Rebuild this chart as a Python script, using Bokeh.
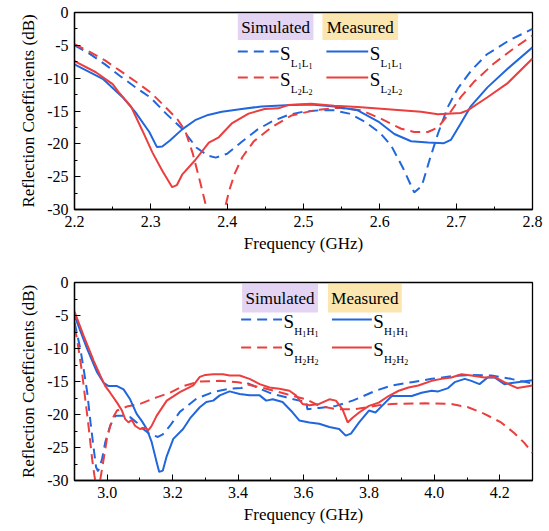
from bokeh.plotting import figure
from bokeh.layouts import gridplot
from bokeh.models import Range1d, FixedTicker, PrintfTickFormatter
from bokeh.core.properties import value
from bokeh.embed import file_html
from bokeh.resources import INLINE

SERIF = "Liberation Serif"
INK = "black"
BLUE = "#2166DD"
RED = "#EB3E3E"
SIM_BG = "#E3D4F4"
MEAS_BG = "#FCE6B0"
DASH = "10 6"

# ---------------- L band (upper panel) ----------------
l_x_ticks = [2.2, 2.3, 2.4, 2.5, 2.6, 2.7, 2.8]
l_x_minor = [2.25, 2.35, 2.45, 2.55, 2.65, 2.75]

l1_sim_f = [2.20, 2.22, 2.24, 2.26, 2.28, 2.30, 2.32, 2.34, 2.36, 2.375, 2.385, 2.40,
            2.42, 2.44, 2.46, 2.48, 2.50, 2.52, 2.54, 2.56, 2.58, 2.60, 2.615, 2.63,
            2.645, 2.655, 2.665, 2.676, 2.689, 2.702, 2.72, 2.74, 2.77, 2.80]
l1_sim_db = [-5.0, -6.3, -7.9, -9.7, -11.4, -13.0, -15.4, -17.6, -20.6, -21.8, -22.1, -21.5,
             -19.6, -17.8, -16.5, -15.6, -15.1, -14.9, -14.9, -15.4, -16.6, -18.3, -20.3, -23.6,
             -27.4, -26.4, -22.5, -18.5, -14.4, -11.6, -8.8, -6.4, -4.2, -2.5]

l2_sim_f = [2.20, 2.22, 2.24, 2.26, 2.28, 2.30, 2.32, 2.335, 2.345, 2.355, 2.365, 2.374,
            2.385, 2.396, 2.403, 2.41, 2.42, 2.435, 2.458, 2.484, 2.514, 2.546, 2.576,
            2.602, 2.628, 2.645, 2.663, 2.676, 2.691, 2.706, 2.723, 2.749, 2.775, 2.80]
l2_sim_db = [-4.8, -6.0, -7.3, -8.9, -10.5, -12.2, -14.5, -16.3, -18.0, -21.5, -26.0, -30.3,
             -33.0, -30.3, -27.0, -24.5, -22.0, -19.6, -17.5, -15.7, -14.9, -14.5, -14.9,
             -16.2, -17.7, -18.2, -18.2, -17.5, -15.4, -12.9, -10.6, -7.8, -5.5, -3.5]

l1_meas_f = [2.20, 2.237, 2.263, 2.28, 2.298, 2.308, 2.315, 2.325, 2.341, 2.358, 2.375,
             2.393, 2.419, 2.445, 2.484, 2.51, 2.54, 2.571, 2.598, 2.619, 2.641, 2.663,
             2.684, 2.693, 2.706, 2.719, 2.741, 2.767, 2.80]
l1_meas_db = [-7.9, -10.1, -12.9, -15.2, -18.2, -20.5, -20.4, -19.5, -17.8, -16.4, -15.6,
              -15.1, -14.7, -14.3, -14.1, -14.0, -14.3, -14.9, -16.6, -18.5, -19.6, -19.8,
              -19.9, -19.4, -16.9, -14.3, -11.4, -8.6, -5.3]

l2_meas_f = [2.20, 2.228, 2.25, 2.259, 2.274, 2.289, 2.302, 2.315, 2.328, 2.334, 2.341,
             2.358, 2.376, 2.389, 2.406, 2.428, 2.449, 2.467, 2.48, 2.51, 2.54, 2.571,
             2.619, 2.654, 2.676, 2.706, 2.715, 2.741, 2.767, 2.80]
l2_meas_db = [-7.4, -9.1, -10.9, -12.3, -14.3, -18.0, -21.3, -24.1, -26.6, -26.3, -24.7,
              -22.5, -19.8, -19.0, -16.9, -15.4, -14.7, -14.6, -14.1, -13.9, -14.2, -14.4,
              -14.8, -15.1, -15.5, -15.3, -14.9, -12.9, -10.8, -7.0]

# ---------------- H band (lower panel) ----------------
h_x_ticks = [3.0, 3.2, 3.4, 3.6, 3.8, 4.0, 4.2]
h_x_minor = [2.9, 3.1, 3.3, 3.5, 3.7, 3.9, 4.1, 4.3]

h1_sim_f = [2.90, 2.918, 2.928, 2.939, 2.949, 2.959, 2.966, 2.972, 2.984, 2.994, 3.009,
            3.025, 3.05, 3.07, 3.09, 3.11, 3.131, 3.155, 3.17, 3.192, 3.222, 3.273,
            3.324, 3.374, 3.41, 3.43, 3.445, 3.466, 3.506, 3.547, 3.587, 3.608, 3.612,
            3.648, 3.699, 3.75, 3.77, 3.82, 3.87, 3.931, 3.992, 4.052, 4.113, 4.174,
            4.234, 4.30]
h1_sim_db = [-6.0, -10.1, -13.1, -16.7, -21.2, -25.3, -28.0, -28.6, -26.8, -24.2, -21.7,
             -20.2, -20.2, -20.4, -21.2, -22.2, -23.0, -23.4, -23.0, -21.7, -19.6, -17.6,
             -16.6, -16.1, -16.0, -15.3, -15.6, -16.1, -16.9, -17.4, -17.9, -18.0, -19.2,
             -19.0, -18.7, -17.9, -17.5, -16.4, -15.6, -15.1, -14.6, -14.2, -14.0, -14.1,
             -14.6, -15.3]

h2_sim_f = [2.90, 2.908, 2.923, 2.933, 2.944, 2.954, 2.961, 2.968, 2.975, 2.979, 2.989,
            2.999, 3.015, 3.03, 3.06, 3.10, 3.151, 3.192, 3.232, 3.283, 3.344, 3.40,
            3.425, 3.486, 3.547, 3.608, 3.648, 3.699, 3.75, 3.77, 3.83, 3.87, 3.971,
            4.052, 4.103, 4.153, 4.204, 4.244, 4.275, 4.30]
h2_sim_db = [-6.8, -8.6, -13.6, -17.7, -22.2, -26.8, -29.3, -31.5, -31.0, -29.8, -26.8,
             -23.7, -20.7, -19.4, -18.8, -18.4, -17.4, -16.7, -15.7, -15.0, -14.9, -15.1,
             -15.4, -16.1, -16.9, -17.7, -18.7, -19.2, -19.2, -19.1, -18.6, -18.4, -18.3,
             -18.4, -18.9, -19.9, -21.2, -22.8, -24.3, -25.8]

h1_meas_f = [2.90, 2.939, 2.969, 2.989, 3.004, 3.03, 3.05, 3.07, 3.09, 3.106, 3.121,
             3.136, 3.149, 3.159, 3.17, 3.182, 3.202, 3.232, 3.253, 3.283, 3.303, 3.324,
             3.344, 3.374, 3.405, 3.435, 3.466, 3.486, 3.506, 3.536, 3.567, 3.587, 3.618,
             3.648, 3.679, 3.709, 3.729, 3.745, 3.77, 3.80, 3.82, 3.84, 3.86, 3.87,
             3.901, 3.931, 3.961, 3.992, 4.012, 4.042, 4.062, 4.093, 4.113, 4.138,
             4.163, 4.184, 4.214, 4.254, 4.30]
h1_meas_db = [-5.0, -10.1, -13.6, -15.2, -15.7, -15.7, -16.2, -17.7, -19.9, -21.0, -22.2,
              -24.2, -26.8, -28.7, -28.5, -26.3, -23.7, -22.2, -20.6, -18.9, -18.1, -17.9,
              -17.1, -16.5, -16.9, -17.1, -17.1, -17.9, -17.7, -18.1, -19.7, -20.9, -21.2,
              -21.4, -21.9, -22.2, -23.2, -22.9, -21.2, -19.4, -19.7, -18.7, -17.7, -17.2,
              -17.2, -17.2, -16.7, -16.4, -16.5, -16.0, -15.1, -14.6, -14.9, -15.4,
              -14.4, -14.4, -15.4, -15.1, -14.8]

h2_meas_f = [2.90, 2.928, 2.959, 2.979, 2.994, 3.009, 3.03, 3.045, 3.055, 3.065, 3.075,
             3.085, 3.10, 3.116, 3.125, 3.135, 3.151, 3.182, 3.222, 3.263, 3.283, 3.30,
             3.324, 3.354, 3.374, 3.405, 3.435, 3.466, 3.496, 3.526, 3.557, 3.577, 3.597,
             3.618, 3.648, 3.679, 3.699, 3.719, 3.735, 3.75, 3.77, 3.80, 3.83, 3.86,
             3.891, 3.921, 3.951, 3.992, 4.022, 4.052, 4.083, 4.113, 4.153, 4.184,
             4.214, 4.254, 4.30]
h2_meas_db = [-4.4, -8.1, -11.9, -14.1, -15.7, -16.7, -18.2, -19.4, -20.7, -21.2, -20.8,
              -21.7, -22.2, -22.0, -22.4, -21.8, -20.2, -17.9, -16.6, -15.6, -14.3, -14.0,
              -13.9, -13.9, -14.1, -14.1, -14.6, -15.4, -15.9, -16.1, -16.4, -17.1, -18.4,
              -18.6, -18.4, -17.7, -17.9, -19.2, -21.2, -20.5, -19.7, -18.7, -18.2, -17.2,
              -16.4, -15.9, -15.6, -14.9, -14.6, -14.4, -13.9, -14.1, -14.4, -14.3,
              -15.1, -16.0, -15.6]

y_ticks = [0, -5, -10, -15, -20, -25, -30]
y_minor = [-2.5, -7.5, -12.5, -17.5, -22.5, -27.5]


def make_panel(x_lo, x_hi, xticks, xminor, left, right, top, bottom, w, h):
    p = figure(width=w, height=h,
               x_range=Range1d(x_lo, x_hi), y_range=Range1d(-30, 0),
               min_border_left=left, min_border_right=right,
               min_border_top=top, min_border_bottom=bottom,
               output_backend="svg", toolbar_location=None)
    p.grid.visible = False
    p.outline_line_color = "black"
    p.outline_line_width = 1.3
    p.xaxis.ticker = FixedTicker(ticks=xticks, minor_ticks=xminor)
    p.yaxis.ticker = FixedTicker(ticks=y_ticks, minor_ticks=y_minor)
    p.xaxis.formatter = PrintfTickFormatter(format="%.1f")
    p.yaxis.formatter = PrintfTickFormatter(format="%d")
    p.xaxis.axis_label = "Frequency (GHz)"
    p.yaxis.axis_label = "Reflection Coefficients (dB)"
    for ax in (p.xaxis[0], p.yaxis[0]):
        ax.axis_line_color = "black"
        ax.axis_line_width = 1.3
        ax.major_tick_in = 6
        ax.major_tick_out = 0
        ax.minor_tick_in = 3
        ax.minor_tick_out = 0
        ax.major_tick_line_color = "black"
        ax.minor_tick_line_color = "black"
        ax.major_label_text_font = SERIF
        ax.major_label_text_font_size = "16px"
        ax.major_label_text_color = INK
        ax.axis_label_text_font = SERIF
        ax.axis_label_text_font_size = "17px"
        ax.axis_label_text_font_style = "normal"
        ax.axis_label_text_color = INK
    p.xaxis.major_label_standoff = 6
    p.xaxis.axis_label_standoff = 4
    p.yaxis.major_label_standoff = 6
    p.yaxis.axis_label_standoff = 6
    return p


def pixel_mapper(x_lo, x_hi, left, top, fw, fh):
    def to_x(px):
        return x_lo + (px - left) / fw * (x_hi - x_lo)

    def to_y(py):
        return -(py - top) / fh * 30.0
    return to_x, to_y


def put_text(p, x, y, s, size, align="left"):
    p.text(x=[x], y=[y], text=[s], text_font=value(SERIF), text_font_size=size,
           text_color=INK, text_align=align, text_baseline="middle")


def s_param_label(p, to_x, to_y, px, row, letter, digit):
    # "S" with a two-level subscript such as L1L1 or H2H2
    put_text(p, to_x(px), to_y(row + 1.5), "S", "19px")
    cx = px + 10.8
    letter_w = {"L": 6.8, "H": 8.0}[letter]
    for _ in range(2):
        put_text(p, to_x(cx), to_y(row + 11.5), letter, "11px")
        cx += letter_w
        put_text(p, to_x(cx), to_y(row + 14.5), digit, "8px")
        cx += 4.2


def add_key(p, to_x, to_y, sim_box, meas_box, box_top, box_bot, rows,
            dash_span, solid_span, sim_label_x, meas_label_x, letter):
    p.quad(left=[to_x(sim_box[0])], right=[to_x(sim_box[1])],
           top=[to_y(box_top)], bottom=[to_y(box_bot)],
           fill_color=SIM_BG, line_color=None)
    p.quad(left=[to_x(meas_box[0])], right=[to_x(meas_box[1])],
           top=[to_y(box_top)], bottom=[to_y(box_bot)],
           fill_color=MEAS_BG, line_color=None)
    mid = (box_top + box_bot) / 2
    put_text(p, to_x((sim_box[0] + sim_box[1]) / 2), to_y(mid), "Simulated", "17px", "center")
    put_text(p, to_x((meas_box[0] + meas_box[1]) / 2), to_y(mid), "Measured", "17px", "center")
    for row, color, digit in zip(rows, (BLUE, RED), ("1", "2")):
        p.line([to_x(dash_span[0]), to_x(dash_span[1])], [to_y(row), to_y(row)],
               line_color=color, line_width=2, line_dash=DASH)
        p.line([to_x(solid_span[0]), to_x(solid_span[1])], [to_y(row), to_y(row)],
               line_color=color, line_width=2)
        s_param_label(p, to_x, to_y, sim_label_x, row, letter, digit)
        s_param_label(p, to_x, to_y, meas_label_x, row, letter, digit)


# upper panel: L band (frame 460 x 197 px)
top_p = make_panel(2.2, 2.8, l_x_ticks, l_x_minor, 72, 17, 12, 56, 549, 265)
top_p.line(l1_sim_f, l1_sim_db, line_color=BLUE, line_width=2, line_dash=DASH)
top_p.line(l2_sim_f, l2_sim_db, line_color=RED, line_width=2, line_dash=DASH)
top_p.line(l1_meas_f, l1_meas_db, line_color=BLUE, line_width=2)
top_p.line(l2_meas_f, l2_meas_db, line_color=RED, line_width=2)
tx, ty = pixel_mapper(2.2, 2.8, 72, 12, 460, 197)
add_key(top_p, tx, ty, (236, 312), (321, 397), 13.5, 39.5, (51, 77),
        (236, 277), (325, 367), 278.5, 368.5, "L")

# lower panel: H band (frame 459 x 198 px)
bot_p = make_panel(2.9, 4.3, h_x_ticks, h_x_minor, 74, 16, 17, 51, 549, 266)
bot_p.line(h1_sim_f, h1_sim_db, line_color=BLUE, line_width=2, line_dash=DASH)
bot_p.line(h2_sim_f, h2_sim_db, line_color=RED, line_width=2, line_dash=DASH)
bot_p.line(h1_meas_f, h1_meas_db, line_color=BLUE, line_width=2)
bot_p.line(h2_meas_f, h2_meas_db, line_color=RED, line_width=2)
bx, by = pixel_mapper(2.9, 4.3, 74, 282, 459, 198)
add_key(bot_p, bx, by, (242, 318), (328, 402), 283.5, 312, (319, 347),
        (241, 282), (332, 372), 283.5, 373.5, "H")

layout = gridplot([[top_p], [bot_p]], toolbar_location=None)
html = file_html(layout, INLINE)
html = html.replace("<head>", "<head>\n<style>body { font-family: 'Liberation Serif', serif; }</style>", 1)
open("out.html", "w").write(html)
